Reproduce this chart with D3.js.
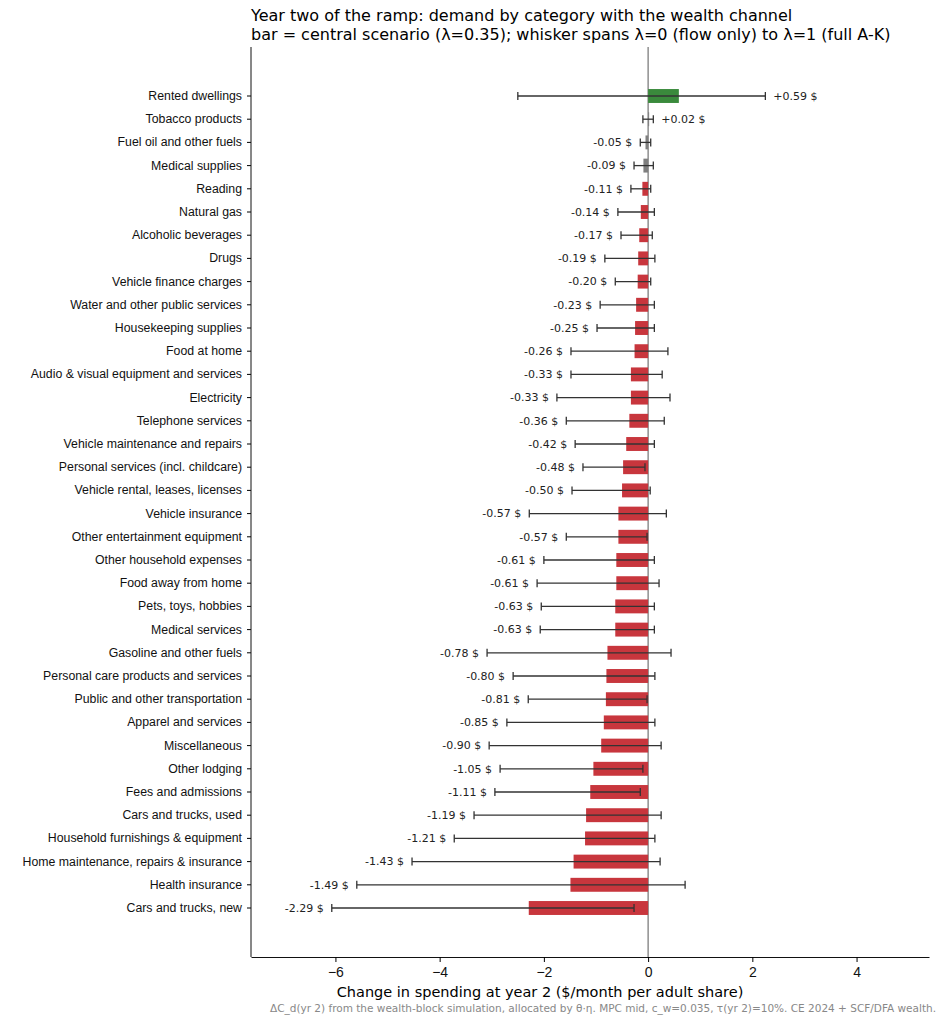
<!DOCTYPE html>
<html><head><meta charset="utf-8">
<script src="https://cdn.jsdelivr.net/npm/d3@7"></script>
<style>body{margin:0;background:#fff;font-family:"DejaVu Sans",sans-serif}</style>
</head><body><div id="chart"></div>
<script>
// data
var categories = ["Rented dwellings","Tobacco products","Fuel oil and other fuels","Medical supplies","Reading","Natural gas","Alcoholic beverages","Drugs","Vehicle finance charges","Water and other public services","Housekeeping supplies","Food at home","Audio & visual equipment and services","Electricity","Telephone services","Vehicle maintenance and repairs","Personal services (incl. childcare)","Vehicle rental, leases, licenses","Vehicle insurance","Other entertainment equipment","Other household expenses","Food away from home","Pets, toys, hobbies","Medical services","Gasoline and other fuels","Personal care products and services","Public and other transportation","Apparel and services","Miscellaneous","Other lodging","Fees and admissions","Cars and trucks, used","Household furnishings & equipment","Home maintenance, repairs & insurance","Health insurance","Cars and trucks, new"];
var central = [0.59,0.02,-0.05,-0.09,-0.11,-0.14,-0.17,-0.19,-0.20,-0.23,-0.25,-0.26,-0.33,-0.33,-0.36,-0.42,-0.48,-0.50,-0.57,-0.57,-0.61,-0.61,-0.63,-0.63,-0.78,-0.80,-0.81,-0.85,-0.90,-1.05,-1.11,-1.19,-1.21,-1.43,-1.49,-2.29];
var whiskLo = [-2.50,-0.10,-0.15,-0.27,-0.33,-0.58,-0.52,-0.83,-0.63,-0.92,-0.98,-1.48,-1.48,-1.75,-1.57,-1.40,-1.25,-1.46,-2.28,-1.57,-2.00,-2.13,-2.05,-2.07,-3.09,-2.59,-2.30,-2.71,-3.05,-2.84,-2.94,-3.34,-3.72,-4.53,-5.59,-6.07];
var whiskHi = [2.25,0.10,0.05,0.10,0.05,0.12,0.08,0.13,0.05,0.12,0.12,0.38,0.27,0.42,0.31,0.12,-0.06,0.04,0.35,-0.02,0.12,0.21,0.12,0.12,0.44,0.13,-0.02,0.13,0.25,-0.10,-0.15,0.25,0.13,0.23,0.71,-0.27];
var xTicks = [-6,-4,-2,0,2,4];

var W = 946, H = 1024;
var margin = {top: 47, right: 17, bottom: 67, left: 251},
    width = W - margin.left - margin.right,
    height = H - margin.top - margin.bottom;

var svg = d3.select("#chart").append("svg")
    .attr("width", W).attr("height", H);

var g = svg.append("g")
    .attr("transform", "translate(" + margin.left + "," + margin.top + ")");

var x = d3.scaleLinear().domain([-7.62, 5.39]).range([0, width]);
var y = d3.scaleBand().domain(categories).range([37.4, 872.6]).paddingInner(0.4).paddingOuter(0.2);

var rows = categories.map(function(c, i) {
  return {name: c, v: central[i], lo: whiskLo[i], hi: whiskHi[i]};
});

function colorOf(v) {
  if (Math.abs(v) < 0.1) return "#7f7f7f";
  return v > 0 ? "#3a8a3c" : "#c8363d";
}

// zero line
g.append("line")
  .attr("x1", x(0)).attr("x2", x(0)).attr("y1", 0).attr("y2", height)
  .attr("stroke", "#444").attr("stroke-width", 0.9);

// bars
g.selectAll("rect.bar").data(rows).enter().append("rect")
  .attr("x", function(d) { return x(Math.min(0, d.v)); })
  .attr("y", function(d) { return y(d.name); })
  .attr("width", function(d) { return Math.abs(x(d.v) - x(0)); })
  .attr("height", y.bandwidth())
  .attr("fill", function(d) { return colorOf(d.v); });

// whiskers
var wk = g.selectAll("g.wk").data(rows).enter().append("g")
  .attr("transform", function(d) { return "translate(0," + (y(d.name) + y.bandwidth() / 2) + ")"; })
  .attr("stroke", "#333").attr("stroke-width", 1.3);
wk.append("line").attr("x1", function(d) { return x(d.lo); }).attr("x2", function(d) { return x(d.hi); });
wk.append("line").attr("x1", function(d) { return x(d.lo); }).attr("x2", function(d) { return x(d.lo); }).attr("y1", -4).attr("y2", 4);
wk.append("line").attr("x1", function(d) { return x(d.hi); }).attr("x2", function(d) { return x(d.hi); }).attr("y1", -4).attr("y2", 4);

// value labels
g.selectAll("text.val").data(rows).enter().append("text")
  .attr("x", function(d) { return d.v >= 0 ? x(d.hi) + 8 : x(d.lo) - 8; })
  .attr("y", function(d) { return y(d.name) + y.bandwidth() / 2; })
  .attr("dy", "0.35em")
  .attr("text-anchor", function(d) { return d.v >= 0 ? "start" : "end"; })
  .attr("font-size", 11).attr("fill", "#222")
  .text(function(d) { return (d.v >= 0 ? "+" : "") + d.v.toFixed(2) + " $"; });

// axes
var yAxis = g.append("g").call(d3.axisLeft(y).tickSize(4).tickSizeOuter(0).tickPadding(5));
yAxis.select(".domain").remove();
yAxis.selectAll("text").attr("font-size", 12.3).attr("fill", "#111");
g.append("line").attr("x1", 0).attr("x2", 0).attr("y1", 0).attr("y2", height)
  .attr("stroke", "#111");
var xAxis = g.append("g").attr("transform", "translate(0," + height + ")")
  .call(d3.axisBottom(x).tickValues(xTicks).tickSize(5).tickSizeOuter(0).tickPadding(5)
    .tickFormat(function(d) { return d < 0 ? "\u2212" + Math.abs(d) : d; }));
xAxis.selectAll("text").attr("font-size", 14).attr("fill", "#111");
g.selectAll(".domain").attr("stroke", "#111");

g.append("text")
  .attr("x", width / 2 - 50).attr("y", height + 40)
  .attr("text-anchor", "middle").attr("font-size", 14.5)
  .text("Change in spending at year 2 ($/month per adult share)");

// title
g.append("text").attr("x", 0).attr("y", -26).attr("font-size", 16)
  .text("Year two of the ramp: demand by category with the wealth channel");
g.append("text").attr("x", 0).attr("y", -7).attr("font-size", 16)
  .text("bar = central scenario (\u03bb=0.35); whisker spans \u03bb=0 (flow only) to \u03bb=1 (full A-K)");

svg.append("text").attr("x", 936).attr("y", 1012)
  .attr("text-anchor", "end").attr("font-size", 10.5).attr("fill", "#888")
  .text("\u0394C_d(yr 2) from the wealth-block simulation, allocated by \u03b8\u00b7\u03b7. MPC mid, c_w=0.035, \u03c4(yr 2)=10%. CE 2024 + SCF/DFA wealth.");
</script></body></html>
